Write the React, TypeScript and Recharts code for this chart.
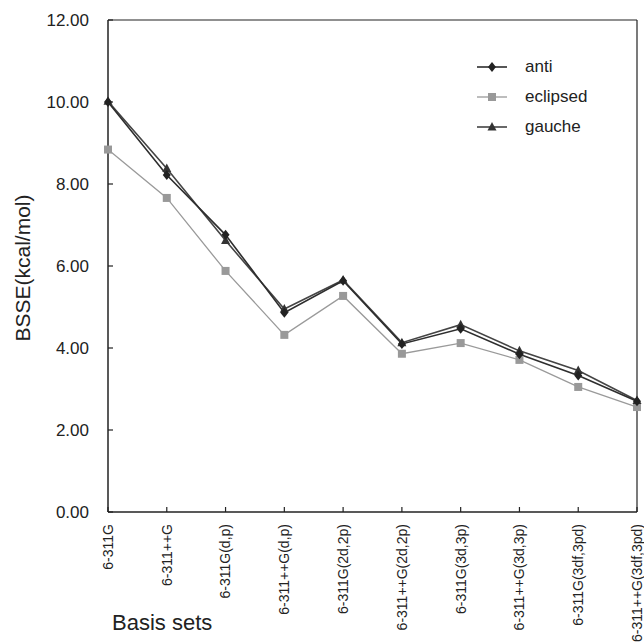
import React from "react";
import { LineChart, Line, XAxis, YAxis, Legend, ReferenceLine } from "recharts";

const categories = [
  "6-311G",
  "6-311++G",
  "6-311G(d,p)",
  "6-311++G(d,p)",
  "6-311G(2d,2p)",
  "6-311++G(2d,2p)",
  "6-311G(3d,3p)",
  "6-311++G(3d,3p)",
  "6-311G(3df,3pd)",
  "6-311++G(3df,3pd)",
];
const anti = [10.0, 8.22, 6.76, 4.86, 5.64, 4.1, 4.47, 3.85, 3.33, 2.7];
const eclipsed = [8.84, 7.66, 5.88, 4.32, 5.27, 3.86, 4.12, 3.71, 3.05, 2.56];
const gauche = [10.02, 8.38, 6.62, 4.95, 5.66, 4.13, 4.57, 3.93, 3.45, 2.72];
const yTicks = [0, 2, 4, 6, 8, 10, 12];
const seriesNames = ["anti", "eclipsed", "gauche"];

const data = categories.map((c, i) => ({
  name: c,
  anti: anti[i],
  eclipsed: eclipsed[i],
  gauche: gauche[i],
}));

const FONT = "'Liberation Sans', Arial, sans-serif";
const TEXT = "#222";

const style: Record<string, { stroke: string; fill: string; width: number; shape: string }> = {
  anti: { stroke: "#2e2e2e", fill: "#222", width: 1.6, shape: "diamond" },
  eclipsed: { stroke: "#9a9a9a", fill: "#999", width: 1.3, shape: "square" },
  gauche: { stroke: "#444", fill: "#333", width: 1.6, shape: "triangle" },
};

function Marker({ cx, cy, shape, fill }: { cx: number; cy: number; shape: string; fill: string }) {
  if (cx == null || cy == null) return null;
  if (shape === "square") {
    return <rect x={cx - 4} y={cy - 4} width={8} height={8} fill={fill} />;
  }
  if (shape === "triangle") {
    return (
      <polygon
        points={`${cx},${cy - 5} ${cx + 4.5},${cy + 3.5} ${cx - 4.5},${cy + 3.5}`}
        fill={fill}
      />
    );
  }
  return (
    <polygon
      points={`${cx},${cy - 5} ${cx + 4},${cy} ${cx},${cy + 5} ${cx - 4},${cy}`}
      fill={fill}
    />
  );
}

const makeDot = (key: string) => (props: any) => (
  <Marker
    key={`${key}-${props.index}`}
    cx={props.cx}
    cy={props.cy}
    shape={style[key].shape}
    fill={style[key].fill}
  />
);

const XTick = (props: any) => {
  const { x, y, payload } = props;
  return (
    <g>
      <line x1={x} y1={y} x2={x} y2={y - 5} stroke={TEXT} strokeWidth={1.2} />
      <text
        x={x}
        y={y + 12}
        transform={`rotate(-90 ${x} ${y + 12})`}
        textAnchor="end"
        dy="0.35em"
        fontFamily={FONT}
        fontSize={14}
        fill={TEXT}
      >
        {payload.value}
      </text>
    </g>
  );
};

const YTick = (props: any) => {
  const { x, y, payload } = props;
  return (
    <g>
      <line x1={x} y1={y} x2={x + 5} y2={y} stroke={TEXT} strokeWidth={1.2} />
      <text
        x={x - 19}
        y={y}
        textAnchor="end"
        dy="0.35em"
        fontFamily={FONT}
        fontSize={17}
        fill={TEXT}
      >
        {Number(payload.value).toFixed(2)}
      </text>
    </g>
  );
};

const renderLegend = (props: any) => {
  const payload = props.payload || [];
  const ordered = seriesNames
    .map((n) => payload.find((p: any) => p.dataKey === n))
    .filter(Boolean);
  return (
    <div style={{ width: 170, whiteSpace: "nowrap" }}>
      {ordered.map((p: any) => {
        const s = style[p.dataKey];
        return (
          <div
            key={p.dataKey}
            style={{ height: 30, display: "flex", alignItems: "center" }}
          >
            <svg width={30} height={14} style={{ display: "block" }}>
              <line x1={0} y1={7} x2={30} y2={7} stroke={s.stroke} strokeWidth={s.width} />
              <Marker cx={15} cy={7} shape={s.shape} fill={s.fill} />
            </svg>
            <span
              style={{
                marginLeft: 18,
                fontFamily: FONT,
                fontSize: 17,
                color: TEXT,
                lineHeight: "20px",
              }}
            >
              {p.value}
            </span>
          </div>
        );
      })}
    </div>
  );
};

export default function App() {
  return (
    <div style={{ position: "absolute", left: 0, top: 0, width: 644, height: 644, background: "#fff" }}>
      <LineChart
        width={644}
        height={644}
        data={data}
        margin={{ top: 20, right: 7, bottom: 0, left: 0 }}
      >
        <XAxis
          dataKey="name"
          height={132}
          interval={0}
          tickSize={0}
          tickMargin={0}
          tickLine={false}
          tick={<XTick />}
          stroke={TEXT}
          strokeWidth={1.5}
          label={{
            content: () => (
              <text x={112} y={630} fontFamily={FONT} fontSize={22} fill={TEXT}>
                Basis sets
              </text>
            ),
          }}
        />
        <YAxis
          width={108}
          domain={[0, 12]}
          ticks={yTicks}
          tickSize={0}
          tickMargin={0}
          tickLine={false}
          tick={<YTick />}
          stroke={TEXT}
          strokeWidth={1.5}
          label={{
            content: () => (
              <text
                x={23}
                y={268}
                transform="rotate(-90 23 268)"
                textAnchor="middle"
                dy="0.35em"
                fontFamily={FONT}
                fontSize={21}
                fill={TEXT}
              >
                BSSE(kcal/mol)
              </text>
            ),
          }}
        />
        <ReferenceLine y={12} stroke={TEXT} strokeWidth={1.2} />
        <ReferenceLine x={categories[categories.length - 1]} stroke={TEXT} strokeWidth={1.2} />
        <Legend
          layout="vertical"
          align="right"
          verticalAlign="top"
          content={renderLegend}
          wrapperStyle={{ position: "absolute", left: 477, top: 52, width: 0, height: 0, overflow: "visible" }}
        />
        <Line
          dataKey="eclipsed"
          name="eclipsed"
          stroke={style.eclipsed.stroke}
          strokeWidth={style.eclipsed.width}
          dot={makeDot("eclipsed")}
          activeDot={false}
          isAnimationActive={false}
        />
        <Line
          dataKey="gauche"
          name="gauche"
          stroke={style.gauche.stroke}
          strokeWidth={style.gauche.width}
          dot={makeDot("gauche")}
          activeDot={false}
          isAnimationActive={false}
        />
        <Line
          dataKey="anti"
          name="anti"
          stroke={style.anti.stroke}
          strokeWidth={style.anti.width}
          dot={makeDot("anti")}
          activeDot={false}
          isAnimationActive={false}
        />
      </LineChart>
    </div>
  );
}
